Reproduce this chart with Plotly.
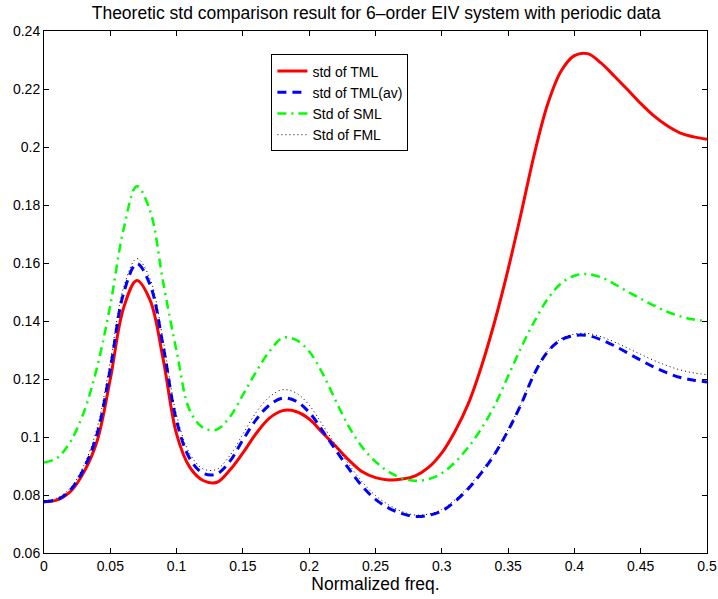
import plotly.graph_objects as go

freq = [round(0.01 * i, 2) for i in range(51)]

std_tml = [0.0777, 0.0783, 0.0812, 0.0878, 0.0985, 0.1200, 0.1445, 0.1540, 0.1472, 0.1265,
           0.1010, 0.0895, 0.0850, 0.0843, 0.0885, 0.0945, 0.1012, 0.1065, 0.1091, 0.1088,
           0.1062, 0.1015, 0.0968, 0.0920, 0.0880, 0.0860, 0.0852, 0.0855, 0.0866, 0.0895,
           0.0945, 0.1020, 0.1115, 0.1245, 0.1400, 0.1578, 0.1775, 0.1980, 0.2150, 0.2262,
           0.2315, 0.2322, 0.2290, 0.2245, 0.2198, 0.2150, 0.2107, 0.2073, 0.2048, 0.2035,
           0.2027]

std_tml_av = [0.0777, 0.0784, 0.0818, 0.0890, 0.1010, 0.1235, 0.1495, 0.1598, 0.1525, 0.1310,
              0.1055, 0.0925, 0.0875, 0.0872, 0.0915, 0.0990, 0.1060, 0.1110, 0.1134, 0.1124,
              0.1085, 0.1022, 0.0955, 0.0890, 0.0830, 0.0785, 0.0755, 0.0736, 0.0726, 0.0730,
              0.0745, 0.0778, 0.0822, 0.0877, 0.0942, 0.1022, 0.1115, 0.1220, 0.1295, 0.1335,
              0.1350, 0.1350, 0.1336, 0.1315, 0.1290, 0.1265, 0.1241, 0.1221, 0.1205, 0.1196,
              0.1190]

std_sml = [0.0912, 0.0928, 0.0985, 0.1085, 0.1240, 0.1455, 0.1716, 0.1865, 0.1780, 0.1530,
           0.1296, 0.1091, 0.1032, 0.1025, 0.1068, 0.1145, 0.1225, 0.1295, 0.1342, 0.1335,
           0.1295, 0.1220, 0.1125, 0.1035, 0.0965, 0.0915, 0.0880, 0.0858, 0.0849, 0.0855,
           0.0875, 0.0913, 0.0965, 0.1030, 0.1110, 0.1210, 0.1310, 0.1400, 0.1477, 0.1530,
           0.1556, 0.1562, 0.1551, 0.1528, 0.1502, 0.1477, 0.1453, 0.1432, 0.1416, 0.1405,
           0.1400]

std_fml = [0.0780, 0.0790, 0.0825, 0.0902, 0.1030, 0.1260, 0.1515, 0.1615, 0.1545, 0.1330,
           0.1075, 0.0942, 0.0890, 0.0888, 0.0935, 0.1010, 0.1085, 0.1138, 0.1163, 0.1152,
           0.1110, 0.1042, 0.0972, 0.0905, 0.0845, 0.0798, 0.0766, 0.0743, 0.0731, 0.0734,
           0.0750, 0.0784, 0.0828, 0.0884, 0.0947, 0.1026, 0.1118, 0.1223, 0.1298, 0.1339,
           0.1355, 0.1357, 0.1346, 0.1328, 0.1307, 0.1285, 0.1264, 0.1246, 0.1231, 0.1221,
           0.1215]

x_ticks = [0, 0.05, 0.1, 0.15, 0.2, 0.25, 0.3, 0.35, 0.4, 0.45, 0.5]
x_ticklabels = ["0", "0.05", "0.1", "0.15", "0.2", "0.25", "0.3", "0.35", "0.4", "0.45", "0.5"]
y_ticks = [0.06, 0.08, 0.1, 0.12, 0.14, 0.16, 0.18, 0.2, 0.22, 0.24]
y_ticklabels = ["0.06", "0.08", "0.1", "0.12", "0.14", "0.16", "0.18", "0.2", "0.22", "0.24"]

FONT = "Liberation Sans, Arial, sans-serif"

fig = go.Figure()
fig.add_trace(go.Scatter(x=freq, y=std_tml, mode="lines", name="std of TML",
                         line=dict(color="#ff0000", width=3, shape="spline", smoothing=1)))
fig.add_trace(go.Scatter(x=freq, y=std_tml_av, mode="lines", name="std of TML(av)",
                         line=dict(color="#0000ff", width=3, dash="9px,6px", shape="spline", smoothing=1)))
fig.add_trace(go.Scatter(x=freq, y=std_sml, mode="lines", name="Std of SML",
                         line=dict(color="#00ff00", width=2.5, dash="9px,5px,2px,5px", shape="spline", smoothing=1)))
fig.add_trace(go.Scatter(x=freq, y=std_fml, mode="lines", name="Std of FML",
                         line=dict(color="#000000", width=1, dash="1px,3px", shape="spline", smoothing=1)))

axis_common = dict(showline=True, linecolor="black", linewidth=1, mirror="ticks",
                   ticks="inside", ticklen=5, tickcolor="black", showgrid=False,
                   zeroline=False, automargin=False,
                   tickfont=dict(family=FONT, size=14, color="black"))

fig.update_layout(
    width=718, height=599,
    margin=dict(l=44, r=11, t=31, b=46),
    paper_bgcolor="white", plot_bgcolor="white",
    title=dict(text="Theoretic std comparison result for 6\u2013order EIV system with periodic data",
               x=0.524, xanchor="center", y=0.978, yanchor="middle",
               font=dict(family=FONT, size=17.5, color="black")),
    xaxis=dict(range=[0, 0.5], tickvals=x_ticks, ticktext=x_ticklabels,
               title=dict(text="Normalized freq.", font=dict(family=FONT, size=17.5, color="black"),
                          standoff=2),
               **axis_common),
    yaxis=dict(range=[0.06, 0.24], tickvals=y_ticks, ticktext=y_ticklabels, **axis_common),
    legend=dict(x=0.343, y=0.955, xanchor="left", yanchor="top",
                bgcolor="white", bordercolor="black", borderwidth=1,
                font=dict(family=FONT, size=14, color="black"),
                tracegroupgap=0, itemwidth=30),
    showlegend=True,
)

fig.write_html("out.html")
